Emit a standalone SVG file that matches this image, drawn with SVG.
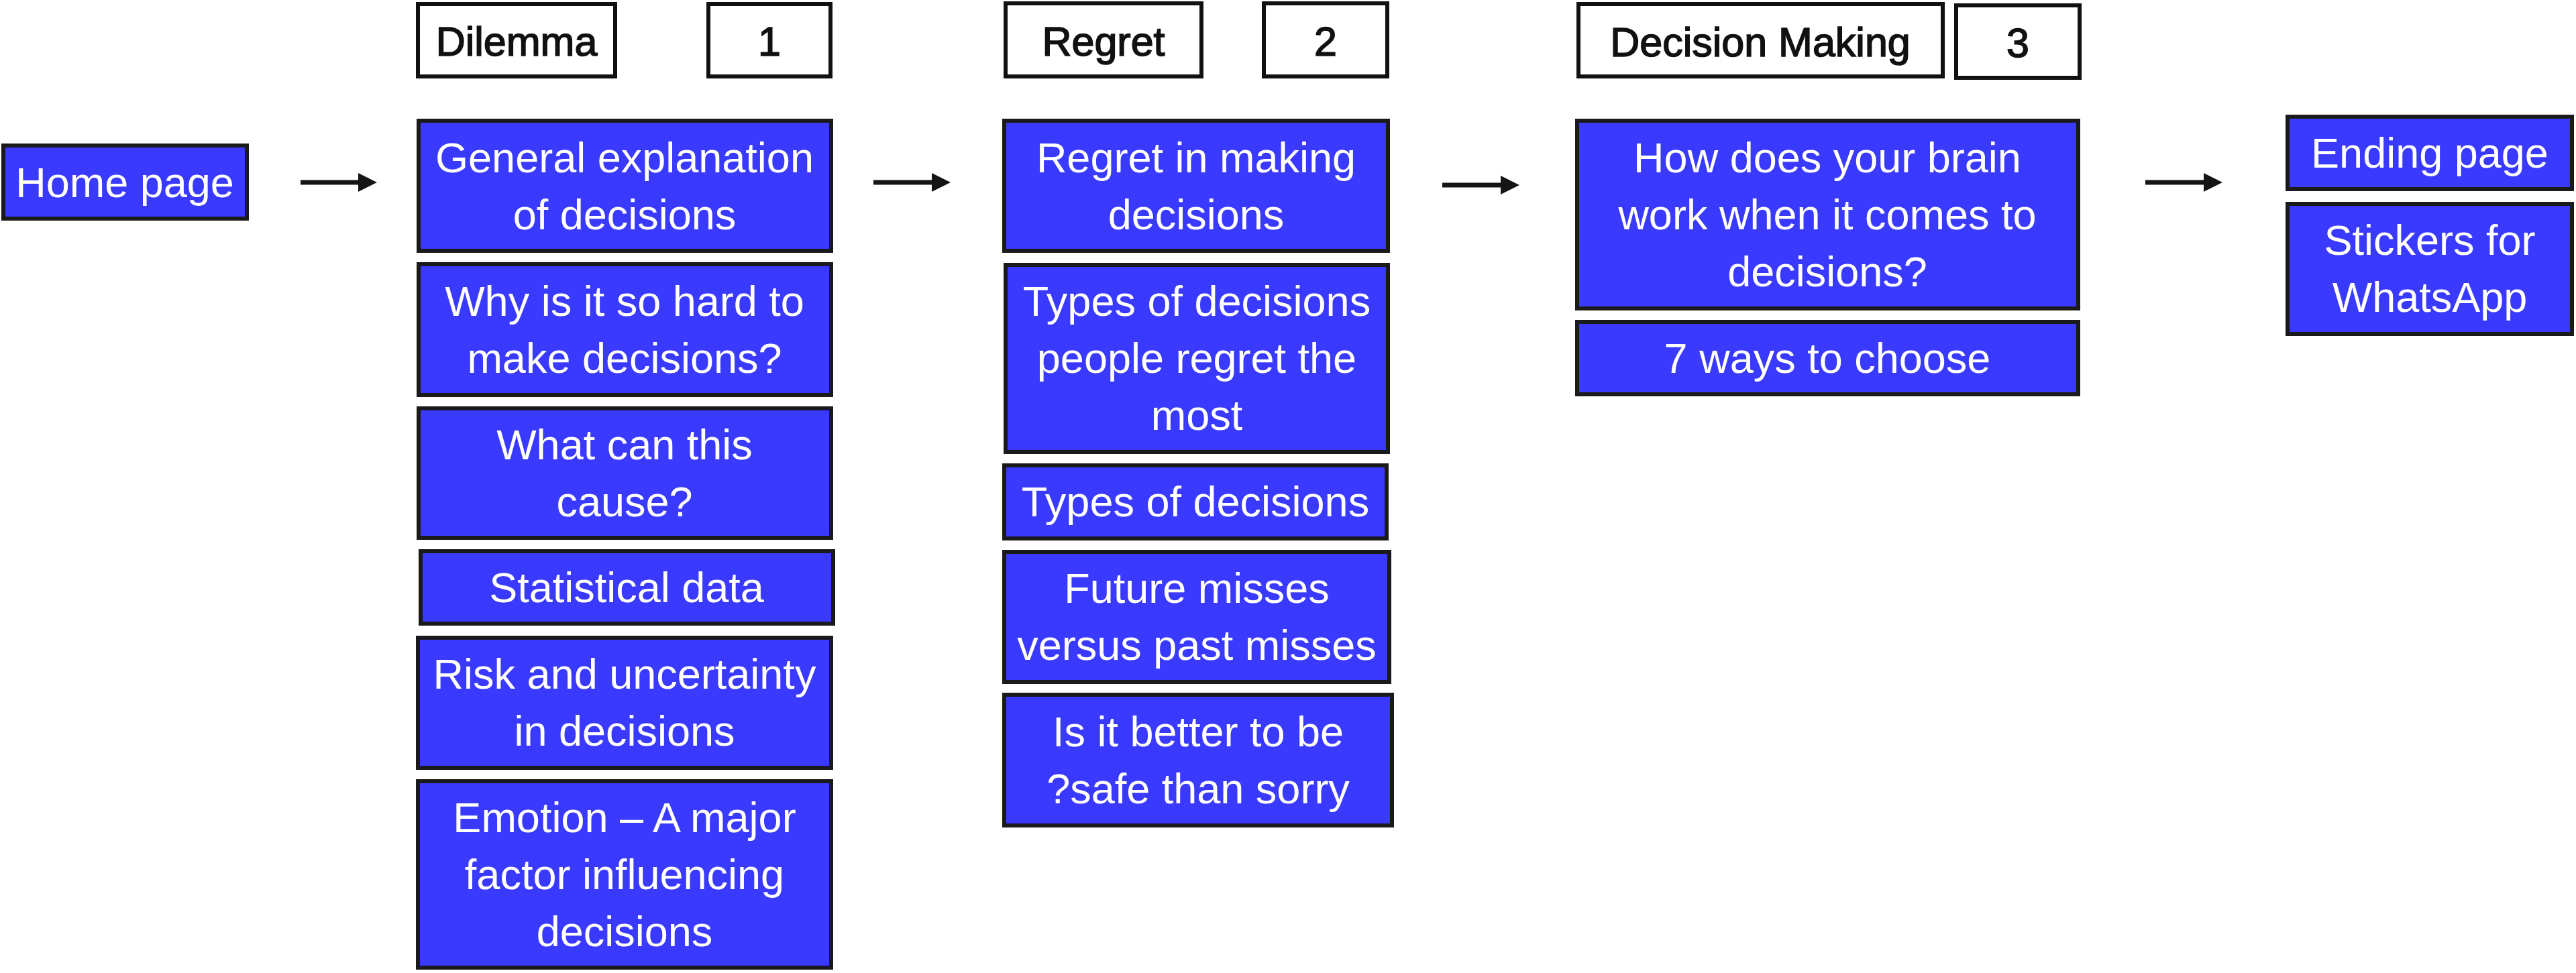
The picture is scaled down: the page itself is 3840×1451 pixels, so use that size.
<svg xmlns="http://www.w3.org/2000/svg" width="3840" height="1451" viewBox="0 0 3840 1451">
<style>
.n{fill:#3a3aff;stroke:#1a1a1a;stroke-width:6}
.h{fill:#ffffff;stroke:#111111;stroke-width:6}
.t{fill:#ffffff;font-family:"Liberation Sans",Arial,sans-serif;font-size:63px;text-anchor:middle}
.ht{fill:#111111;stroke:#111111;stroke-width:1.6;font-family:"Liberation Sans",Arial,sans-serif;font-size:61px;text-anchor:middle}
.c{stroke:#151515;stroke-width:7;fill:none}
.a{fill:#151515}
</style>
<rect width="3840" height="1451" fill="#ffffff"/>

<g id="connectors">
<line class="c" x1="448" y1="272" x2="540" y2="272"/>
<polygon class="a" points="534,258 562,272 534,286"/>
<line class="c" x1="1302" y1="272" x2="1395" y2="272"/>
<polygon class="a" points="1389,258 1417,272 1389,286"/>
<line class="c" x1="2150" y1="276" x2="2243" y2="276"/>
<polygon class="a" points="2237,262 2265,276 2237,290"/>
<line class="c" x1="3198" y1="272" x2="3291" y2="272"/>
<polygon class="a" points="3285,258 3313,272 3285,286"/>
</g>

<g id="home">
<rect class="n" x="5" y="217" width="363" height="109"/>
<text class="t" x="186" y="294">Home page</text>
</g>

<g id="hdr-dilemma">
<rect class="h" x="623" y="6" width="294" height="108"/>
<text class="ht" x="770" y="83">Dilemma</text>
</g>
<g id="hdr-1">
<rect class="h" x="1056" y="6" width="182" height="108"/>
<text class="ht" x="1147" y="83">1</text>
</g>
<g id="hdr-regret">
<rect class="h" x="1499" y="5" width="292" height="109"/>
<text class="ht" x="1645" y="83">Regret</text>
</g>
<g id="hdr-2">
<rect class="h" x="1884" y="5" width="184" height="109"/>
<text class="ht" x="1976" y="83">2</text>
</g>
<g id="hdr-decision">
<rect class="h" x="2353" y="6" width="543" height="108"/>
<text class="ht" x="2624" y="84">Decision Making</text>
</g>
<g id="hdr-3">
<rect class="h" x="2916" y="8" width="184" height="108"/>
<text class="ht" x="3008" y="85">3</text>
</g>

<g id="general">
<rect class="n" x="624" y="180" width="615" height="194"/>
<text class="t" x="931" y="257">General explanation</text>
<text class="t" x="931" y="342">of decisions</text>
</g>
<g id="why">
<rect class="n" x="624" y="394" width="615" height="195"/>
<text class="t" x="931" y="471">Why is it so hard to</text>
<text class="t" x="931" y="556">make decisions?</text>
</g>
<g id="what">
<rect class="n" x="624" y="609" width="615" height="193"/>
<text class="t" x="931" y="685">What can this</text>
<text class="t" x="931" y="770">cause?</text>
</g>
<g id="statistical">
<rect class="n" x="627" y="822" width="615" height="108"/>
<text class="t" x="934" y="898">Statistical data</text>
</g>
<g id="risk">
<rect class="n" x="623" y="951" width="616" height="194"/>
<text class="t" x="931" y="1027">Risk and uncertainty</text>
<text class="t" x="931" y="1112">in decisions</text>
</g>
<g id="emotion">
<rect class="n" x="623" y="1165" width="616" height="278"/>
<text class="t" x="931" y="1241">Emotion – A major</text>
<text class="t" x="931" y="1326">factor influencing</text>
<text class="t" x="931" y="1411">decisions</text>
</g>

<g id="regret-making">
<rect class="n" x="1497" y="180" width="572" height="194"/>
<text class="t" x="1783" y="257">Regret in making</text>
<text class="t" x="1783" y="342">decisions</text>
</g>
<g id="types-most">
<rect class="n" x="1499" y="395" width="570" height="279"/>
<text class="t" x="1784" y="471">Types of decisions</text>
<text class="t" x="1784" y="556">people regret the</text>
<text class="t" x="1784" y="641">most</text>
</g>
<g id="types">
<rect class="n" x="1497" y="694" width="570" height="109"/>
<text class="t" x="1782" y="770">Types of decisions</text>
</g>
<g id="future">
<rect class="n" x="1497" y="823" width="574" height="194"/>
<text class="t" x="1784" y="899">Future misses</text>
<text class="t" x="1784" y="984">versus past misses</text>
</g>
<g id="better">
<rect class="n" x="1497" y="1036" width="578" height="195"/>
<text class="t" x="1786" y="1113">Is it better to be</text>
<text class="t" x="1786" y="1198">?safe than sorry</text>
</g>

<g id="brain">
<rect class="n" x="2351" y="180" width="747" height="280"/>
<text class="t" x="2724" y="257">How does your brain</text>
<text class="t" x="2724" y="342">work when it comes to</text>
<text class="t" x="2724" y="427">decisions?</text>
</g>
<g id="ways">
<rect class="n" x="2351" y="480" width="747" height="108"/>
<text class="t" x="2724" y="556">7 ways to choose</text>
</g>

<g id="ending">
<rect class="n" x="3410" y="174" width="424" height="108"/>
<text class="t" x="3622" y="250">Ending page</text>
</g>
<g id="stickers">
<rect class="n" x="3410" y="304" width="424" height="194"/>
<text class="t" x="3622" y="380">Stickers for</text>
<text class="t" x="3622" y="465">WhatsApp</text>
</g>
</svg>
